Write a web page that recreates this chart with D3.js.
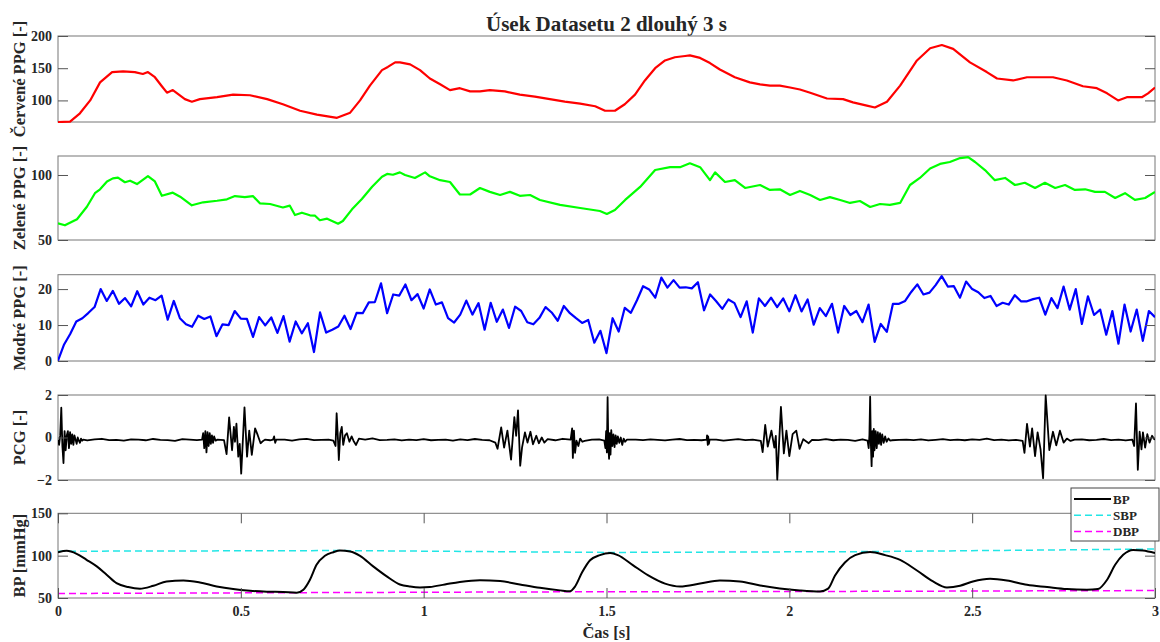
<!DOCTYPE html>
<html>
<head>
<meta charset="utf-8">
<script src="https://cdn.jsdelivr.net/npm/d3@7/dist/d3.min.js"></script>
<style>
  body { margin: 0; background: #fff; }
  text { font-family: "Liberation Serif", "Times New Roman", serif; font-weight: bold; fill: #262626; }
</style>
</head>
<body>
<svg id="chart" width="1160" height="642"></svg>
<script>
// time axis
var xTicks = [0, 0.5, 1, 1.5, 2, 2.5, 3];

// [t (s), value]
var redPPG = [[0,66.5],[0.033,67],[0.06,80],[0.088,100],[0.115,128],[0.148,144],[0.178,145],[0.21,144],[0.232,141],[0.246,144],[0.265,136],[0.284,122],[0.298,112],[0.314,116],[0.347,102],[0.366,98],[0.388,102],[0.435,105],[0.479,109],[0.525,108],[0.572,102],[0.615,94],[0.662,84],[0.708,78],[0.763,73],[0.799,81],[0.826,100],[0.853,123],[0.886,147],[0.902,152],[0.922,159],[0.935,159],[0.963,156],[0.99,147],[1.017,134],[1.045,125],[1.072,116],[1.099,119],[1.127,114],[1.154,114],[1.181,116],[1.222,114],[1.263,109],[1.304,106],[1.345,102],[1.386,98],[1.428,95],[1.469,91],[1.496,84],[1.523,84],[1.55,94],[1.578,109],[1.605,131],[1.633,150],[1.66,162],[1.687,167],[1.715,169],[1.728,170],[1.756,166],[1.783,158],[1.81,148],[1.851,136],[1.892,128],[1.92,125],[1.947,123],[1.974,123],[2.002,120],[2.029,117],[2.057,112],[2.103,103],[2.147,102],[2.174,97],[2.212,92],[2.234,89],[2.267,98],[2.303,123],[2.349,162],[2.385,181],[2.417,186],[2.448,180],[2.494,159],[2.54,144],[2.568,134],[2.612,131],[2.65,136],[2.686,136],[2.721,136],[2.759,131],[2.803,122],[2.841,119],[2.869,111],[2.899,100],[2.923,105],[2.964,105],[2.981,111],[3.0,120]];

var greenPPG = [[0,62.8],[0.019,61.3],[0.052,66],[0.079,75.6],[0.101,86],[0.115,89],[0.134,95],[0.15,97.4],[0.164,98],[0.183,94.4],[0.197,95.6],[0.216,93],[0.246,99.2],[0.265,95],[0.284,84],[0.314,86.4],[0.334,83.3],[0.366,76.7],[0.397,79],[0.435,80.2],[0.462,81.3],[0.484,83.8],[0.511,83],[0.533,83.8],[0.552,78.2],[0.58,77.7],[0.615,75],[0.634,76.4],[0.648,69.2],[0.667,71],[0.689,69],[0.703,68.7],[0.716,65.2],[0.736,66.4],[0.766,62.5],[0.779,64.6],[0.804,73.6],[0.831,81.5],[0.859,91],[0.886,98.7],[0.9,100.8],[0.916,100.2],[0.935,102],[0.949,100],[0.976,97.7],[1.004,102],[1.017,99],[1.045,96],[1.072,94.6],[1.099,85],[1.127,85],[1.154,90],[1.181,87],[1.209,84.6],[1.236,87],[1.263,84],[1.291,84.6],[1.318,80.8],[1.373,77],[1.428,74.6],[1.482,72.3],[1.501,70],[1.523,73],[1.551,80.8],[1.592,90.8],[1.633,103.8],[1.674,106],[1.701,106],[1.728,109],[1.756,106],[1.783,96],[1.797,102],[1.824,94.6],[1.851,96],[1.879,90],[1.92,92.3],[1.947,88.5],[1.974,89],[2.002,84.6],[2.029,87.7],[2.057,84.6],[2.084,80.8],[2.111,83],[2.139,80.8],[2.166,78.5],[2.193,80],[2.221,75.4],[2.248,77.7],[2.275,77],[2.303,78.5],[2.33,92.3],[2.357,97.7],[2.385,105],[2.412,108.5],[2.439,110],[2.467,113],[2.489,113.8],[2.508,110],[2.535,103.8],[2.562,96],[2.59,97.7],[2.617,92.3],[2.644,94],[2.672,90],[2.699,94],[2.727,90],[2.754,92.3],[2.781,88.5],[2.809,89],[2.836,87],[2.863,87],[2.891,82.3],[2.918,86],[2.945,80.8],[2.973,82.3],[3.0,87]];

// blue PPG sampled at 60 Hz
var bluePPG = [0.1,4.6,7.5,11.0,11.9,13.4,15.0,20.0,16.7,19.5,15.9,17.5,15.2,19.4,15.7,17.6,16.9,18.2,11.5,16.7,11.9,10.2,9.5,12.6,11.7,12.4,6.9,10.2,10.0,13.9,11.8,11.7,6.7,12.2,9.9,12.1,7.8,12.5,5.4,11.0,7.7,10.5,2.5,13.5,7.9,8.7,9.6,12.6,8.9,13.4,13.3,16.3,16.4,21.6,13.3,18.5,18.2,21.3,16.9,18.6,14.6,19.9,15.7,16.3,11.9,10.7,12.9,16.8,12.9,16.1,8.7,16.2,10.9,14.3,9.2,15.1,13.9,10.8,10.2,12.0,15.0,13.5,11.2,15.3,13.3,11.9,10.6,11.4,5.1,8.4,2.2,
  11.9,8.2,14.8,13.4,16.9,20.8,19.9,17.6,23.2,20.4,22.5,20.4,20.5,20.2,21.9,14.1,18.5,16.6,14.5,17.1,16.1,12.2,16.6,7.9,17.4,15.3,17.6,15.0,17.4,13.8,18.3,13.8,17.1,10.1,14.7,12.5,15.9,7.9,15.3,12.8,13.9,10.8,15.7,5.3,10.3,8.1,15.9,15.9,16.7,19.2,21.3,18.5,19.0,21.1,23.6,20.7,20.8,17.6,22.1,20.0,19.1,17.5,18.1,15.3,16.2,15.7,18.3,16.6,16.6,17.2,17.6,12.9,17.5,14.7,20.7,14.3,20.0,10.3,18.0,12.8,14.3,7.3,13.9,4.8,15.7,8.2,14.3,5.6,13.9,12.2];

// PCG quiet baseline, one value every 0.02 s
var pcgBaseline = [-0.10,-0.13,-0.08,-0.11,-0.14,-0.09,-0.06,-0.12,-0.11,-0.15,-0.09,-0.10,-0.13,-0.07,-0.11,-0.12,-0.16,-0.08,-0.10,-0.12,
  -0.09,-0.05,-0.13,-0.11,-0.10,-0.14,-0.09,-0.11,-0.07,-0.13,-0.12,-0.10,-0.15,-0.09,-0.06,-0.12,-0.11,-0.10,-0.14,-0.08,
  -0.11,-0.13,-0.10,-0.04,-0.12,-0.11,-0.09,-0.14,-0.10,-0.12,-0.08,-0.13,-0.11,-0.10,-0.15,-0.09,-0.12,-0.07,-0.11,-0.13,
  -0.10,-0.12,-0.09,-0.14,-0.11,-0.08,-0.12,-0.10,-0.13,-0.06,-0.11,-0.12,-0.16,-0.10,-0.09,-0.12,-0.11,-0.08,-0.13,-0.10,
  -0.12,-0.09,-0.11,-0.14,-0.10,-0.07,-0.12,-0.11,-0.13,-0.09,-0.10,-0.15,-0.11,-0.08,-0.12,-0.10,-0.13,-0.11,-0.06,-0.12,
  -0.10,-0.14,-0.09,-0.11,-0.12,-0.08,-0.13,-0.10,-0.11,-0.16,-0.09,-0.12,-0.10,-0.07,-0.13,-0.11,-0.10,-0.12,-0.09,-0.14,
  -0.11,-0.08,-0.12,-0.10,-0.13,-0.09,-0.11,-0.05,-0.12,-0.10,-0.14,-0.11,-0.09,-0.12,-0.10,-0.13,-0.08,-0.11,-0.12,-0.10,
  -0.09,-0.13,-0.11,-0.07,-0.12,-0.10,-0.14,-0.09,-0.11,-0.06,-0.08];

// PCG heart-sound bursts, [t (s), value]
var pcgBursts = [
  [[0,-0.1],[0.003,-0.35],[0.006,0.1],[0.009,1.4],[0.012,-0.4],[0.015,-1.2],[0.018,0.3],[0.021,-0.6],[0.024,0.1],[0.027,0.3],[0.03,-0.5],[0.033,0.25],[0.036,-0.3],[0.039,0.15],[0.042,-0.35],[0.045,0.1],[0.048,-0.1],[0.051,-0.3],[0.054,0],[0.057,-0.15],[0.06,-0.25],[0.063,-0.05],[0.066,-0.15],[0.069,-0.1]],
  [[0.394,-0.1],[0.397,0.2],[0.4,-0.5],[0.403,0.3],[0.406,-0.7],[0.409,0.25],[0.412,-0.4],[0.415,0.2],[0.418,-0.3],[0.421,0.1],[0.424,-0.25],[0.427,0.05],[0.431,-0.15],[0.436,-0.1]],
  [[0.454,-0.12],[0.461,-0.78],[0.468,0.95],[0.476,-0.6],[0.481,0.5],[0.484,-0.2],[0.488,0.65],[0.493,-0.9],[0.497,-0.3],[0.501,-1.7],[0.51,1.42],[0.517,-0.9],[0.523,0.32],[0.53,-0.82],[0.539,0.43],[0.546,0.12],[0.554,-0.27],[0.561,-0.16],[0.566,-0.1]],
  [[0.588,-0.1],[0.591,0.05],[0.594,-0.25],[0.597,-0.1]],
  [[0.753,-0.15],[0.759,-0.4],[0.762,1.14],[0.766,-0.2],[0.768,-1.06],[0.772,0.2],[0.776,0.5],[0.78,-0.35],[0.785,0.1],[0.79,0.2],[0.797,-0.2],[0.803,0.05],[0.808,-0.15],[0.815,-0.35],[0.823,-0.05]],
  [[1.196,-0.24],[1.202,-0.53],[1.212,0.48],[1.22,-0.48],[1.229,0.32],[1.239,-1.04],[1.248,0.96],[1.253,0.08],[1.258,1.28],[1.264,-1.33],[1.269,-0.48],[1.277,0.24],[1.284,-0.24],[1.292,0.27],[1.299,-0.32],[1.308,0.08],[1.315,-0.27],[1.323,0],[1.33,-0.24],[1.339,-0.08]],
  [[1.402,-0.1],[1.406,0.43],[1.408,-0.96],[1.411,0.32],[1.414,-0.72],[1.418,-0.15],[1.423,-0.4],[1.428,-0.05],[1.434,-0.2]],
  [[1.494,-0.15],[1.497,-0.5],[1.499,0.3],[1.501,-0.7],[1.503,1.9],[1.505,-0.4],[1.507,-1.0],[1.509,0.2],[1.511,-0.8],[1.513,0.35],[1.516,-0.4],[1.519,0.15],[1.522,-0.45],[1.525,0.1],[1.528,-0.3],[1.531,0.05],[1.535,-0.25],[1.539,0],[1.543,-0.35],[1.547,-0.05],[1.551,-0.2],[1.556,-0.1]],
  [[1.774,-0.1],[1.775,0.1],[1.777,-0.35],[1.778,0.05],[1.78,-0.3],[1.782,-0.1]],
  [[1.922,-0.16],[1.927,-0.69],[1.934,0.59],[1.941,-0.43],[1.951,0.32],[1.959,-0.48],[1.963,0.08],[1.967,-1.98],[1.977,1.44],[1.985,-0.75],[1.992,0.32],[2.0,-0.88],[2.009,0.16],[2.019,0.32],[2.028,-0.53],[2.038,-0.08],[2.053,-0.27],[2.062,-0.11]],
  [[2.214,-0.15],[2.217,-0.5],[2.219,0.1],[2.221,1.92],[2.223,-0.3],[2.225,-1.35],[2.227,0.3],[2.229,-0.9],[2.231,0.4],[2.233,-0.6],[2.236,0.3],[2.239,-0.5],[2.242,0.25],[2.245,-0.3],[2.248,0.2],[2.251,-0.35],[2.254,0.15],[2.258,-0.25],[2.262,0.05],[2.266,-0.2],[2.271,-0.05],[2.276,-0.15]],
  [[2.638,-0.16],[2.643,-0.72],[2.65,0.64],[2.658,-0.43],[2.664,0.43],[2.672,-0.88],[2.679,0.24],[2.687,-0.56],[2.694,-1.92],[2.701,1.98],[2.711,-0.59],[2.721,0.27],[2.73,-0.37],[2.74,0.32],[2.75,-0.24],[2.759,-0.05],[2.769,-0.16]],
  [[2.938,-0.1],[2.943,-0.4],[2.948,1.6],[2.953,-1.52],[2.958,0.27],[2.963,-0.56],[2.967,0.24],[2.973,-0.48],[2.979,0.16],[2.985,-0.24],[2.992,0.08],[2.998,-0.08],[3.0,-0.05]]
];

var bloodPressure = [[0,104],[0.024,105.7],[0.051,102.2],[0.078,95.1],[0.106,87.3],[0.133,77.5],[0.16,67.6],[0.192,62.9],[0.224,61],[0.261,64.5],[0.297,69.6],[0.343,70.8],[0.388,68.4],[0.434,63.7],[0.479,60.6],[0.525,58.6],[0.571,57.5],[0.616,57.1],[0.653,56.3],[0.671,59.8],[0.689,71.6],[0.707,89.2],[0.73,99.8],[0.753,104.1],[0.771,106.1],[0.799,104.9],[0.826,99.8],[0.862,87.3],[0.899,75.5],[0.935,66],[0.963,63.5],[0.99,62.5],[1.017,63],[1.058,66],[1.099,69],[1.154,71],[1.209,70],[1.263,66],[1.318,62],[1.373,59],[1.4,58],[1.414,63.6],[1.433,80],[1.455,94.5],[1.482,100.6],[1.51,103],[1.531,100.6],[1.572,88.8],[1.613,77],[1.66,67],[1.701,63.6],[1.756,67],[1.81,70.7],[1.865,69.5],[1.92,64.8],[1.974,61.2],[2.029,58.9],[2.084,57.7],[2.106,61],[2.125,76.6],[2.152,92],[2.18,100.6],[2.221,104.2],[2.262,100.6],[2.303,95],[2.349,82.5],[2.393,69.5],[2.431,62.5],[2.467,64.5],[2.502,69.5],[2.549,72.7],[2.595,70.7],[2.65,65.6],[2.705,63],[2.759,60.6],[2.814,59.8],[2.844,60.6],[2.869,71.5],[2.891,89.2],[2.913,101],[2.94,106.8],[2.967,106],[3.0,103]];
var sbp = [[0,105.2],[0.77,106],[1.51,103.8],[2.22,104.8],[2.95,107.6],[3,107.8]];
var dbp = [[0,55.3],[0.65,56.3],[1.4,57.3],[2.08,57.7],[2.81,58.6],[3,58.8]];

// ---- build series ----
var blueSeries = bluePPG.map((v, i) => [i * 3 / (bluePPG.length - 1), v]);

var pcgSeries = pcgBaseline.map((v, i) => [i * 0.02, v])
  .filter(p => !pcgBursts.some(b => p[0] >= b[0][0] - 0.004 && p[0] <= b[b.length - 1][0] + 0.004));
pcgBursts.forEach(b => { pcgSeries = pcgSeries.concat(b); });
pcgSeries.sort((a, b) => a[0] - b[0]);

var width = 1160, height = 642;
var left = 58, right = 1155;

var panels = [
  { label: "Červené PPG [-]", domain: [66.5, 200], ticks: [100, 150, 200], top: 36, bottom: 122,
    series: [{ data: redPPG, color: "#ff0000", w: 2.2 }] },
  { label: "Zelené PPG [-]", domain: [50, 114.6], ticks: [50, 100], top: 156, bottom: 240,
    series: [{ data: greenPPG, color: "#00ff00", w: 2.2 }] },
  { label: "Modré PPG [-]", domain: [0, 24], ticks: [0, 10, 20], top: 274.7, bottom: 361,
    series: [{ data: blueSeries, color: "#0000ff", w: 2.2 }] },
  { label: "PCG [-]", domain: [-2, 2], ticks: [-2, 0, 2], top: 395, bottom: 480,
    series: [{ data: pcgSeries, color: "#000000", w: 1.8 }] },
  { label: "BP [mmHg]", domain: [50, 150], ticks: [50, 100, 150], top: 513.3, bottom: 598,
    series: [
      { data: sbp, color: "#22e6e6", w: 1.5, dash: "7,4", name: "SBP" },
      { data: dbp, color: "#ff00ff", w: 1.5, dash: "7,4", name: "DBP" },
      { data: bloodPressure, color: "#000000", w: 2, name: "BP" }
    ] }
];

var svg = d3.select("#chart");
var x = d3.scaleLinear().domain([0, 3]).range([left, right]);

svg.append("text")
  .attr("x", (left + right) / 2).attr("y", 31)
  .attr("text-anchor", "middle")
  .style("font-size", "21px")
  .text("Úsek Datasetu 2 dlouhý 3 s");

panels.forEach(function(p, k) {
  var y = d3.scaleLinear().domain(p.domain).range([p.bottom, p.top]);
  var g = svg.append("g");

  g.append("rect")
    .attr("x", left).attr("y", p.top)
    .attr("width", right - left).attr("height", p.bottom - p.top)
    .attr("fill", "#fff").attr("stroke", "#777").attr("stroke-width", 1);

  var clipId = "clip" + k;
  svg.append("clipPath").attr("id", clipId).append("rect")
    .attr("x", left).attr("y", p.top - 1)
    .attr("width", right - left).attr("height", p.bottom - p.top + 2);

  p.series.forEach(function(s) {
    var line = d3.line().x(d => x(d[0])).y(d => y(d[1]));
    if (s.data === bloodPressure) line.curve(d3.curveMonotoneX);
    g.append("path")
      .datum(s.data)
      .attr("clip-path", "url(#" + clipId + ")")
      .attr("fill", "none")
      .attr("stroke", s.color)
      .attr("stroke-width", s.w)
      .attr("stroke-linejoin", "round")
      .attr("stroke-dasharray", s.dash || null)
      .attr("d", line);
  });

  var ya = g.append("g").attr("transform", "translate(" + left + ",0)")
    .call(d3.axisLeft(y).tickValues(p.ticks).tickSize(-10).tickPadding(6).tickFormat(d3.format("~g")));
  var yb = g.append("g").attr("transform", "translate(" + right + ",0)")
    .call(d3.axisRight(y).tickValues(p.ticks).tickSize(-10).tickFormat(""));
  [ya, yb].forEach(a => {
    a.select(".domain").remove();
    a.selectAll("line").attr("stroke", "#555");
    a.selectAll("text").style("font-size", "14px").attr("fill", "#262626")
      .style("font-family", "'Liberation Serif', serif").style("font-weight", "bold");
  });

  g.append("text")
    .attr("transform", "translate(25," + ((p.top + p.bottom) / 2) + ") rotate(-90)")
    .attr("text-anchor", "middle")
    .style("font-size", "16.5px")
    .text(p.label);

  if (k === panels.length - 1) {
    var xa = g.append("g").attr("transform", "translate(0," + p.bottom + ")")
      .call(d3.axisBottom(x).tickValues(xTicks).tickSize(-10).tickPadding(8).tickFormat(d3.format("~g")));
    var xb = g.append("g").attr("transform", "translate(0," + p.top + ")")
      .call(d3.axisTop(x).tickValues(xTicks).tickSize(-10).tickFormat(""));
    [xa, xb].forEach(a => {
      a.select(".domain").remove();
      a.selectAll("line").attr("stroke", "#555");
      a.selectAll("text").style("font-size", "14px").attr("fill", "#262626")
        .style("font-family", "'Liberation Serif', serif").style("font-weight", "bold");
    });

    svg.append("text")
      .attr("x", (left + right) / 2).attr("y", 638)
      .attr("text-anchor", "middle")
      .style("font-size", "16.5px")
      .text("Čas [s]");

    // legend
    var items = [p.series[2], p.series[0], p.series[1]];
    var lg = svg.append("g").attr("transform", "translate(1071,488)");
    lg.append("rect").attr("width", 88).attr("height", 53)
      .attr("fill", "#fff").attr("stroke", "#444").attr("stroke-width", 1);
    items.forEach(function(s, i) {
      var yy = 11 + i * 16.3;
      lg.append("line").attr("x1", 3).attr("x2", 40).attr("y1", yy).attr("y2", yy)
        .attr("stroke", s.color).attr("stroke-width", s.w)
        .attr("stroke-dasharray", s.dash || null);
      lg.append("text").attr("x", 42).attr("y", yy).attr("dy", "0.35em")
        .style("font-size", "13px").text(s.name);
    });
  }
});
</script>
</body>
</html>
